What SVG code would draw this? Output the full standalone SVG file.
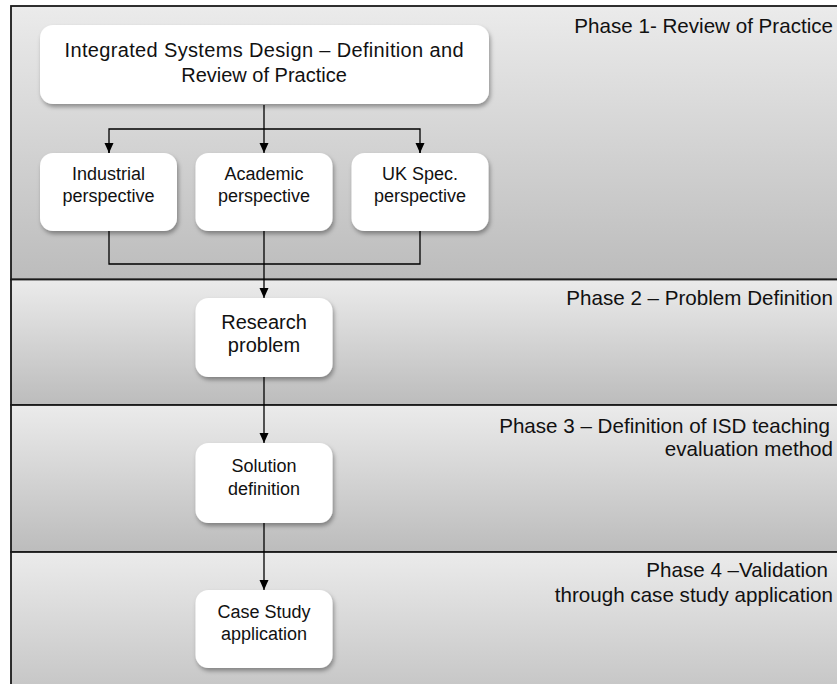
<svg xmlns="http://www.w3.org/2000/svg" width="837" height="684" viewBox="0 0 837 684">
<style>
.band{stroke:#1a1a1a;stroke-width:1.8}
.node rect{fill:#ffffff;filter:url(#sh)}
.node text,.lbl{font-family:"Liberation Sans",Arial,sans-serif;fill:#111;font-size:18px}
.node text{text-anchor:middle}
.node text.big{font-size:20px}
.lbl{font-size:20.6px;text-anchor:end}
.con{fill:none;stroke:#000;stroke-width:1.3}
</style>
<defs>
<linearGradient id="g" x1="0" y1="0" x2="0" y2="1">
<stop offset="0" stop-color="#ebebeb"/>
<stop offset="1" stop-color="#bcbcbc"/>
</linearGradient>
<linearGradient id="g4" x1="0" y1="552" x2="0" y2="700" gradientUnits="userSpaceOnUse">
<stop offset="0" stop-color="#ebebeb"/>
<stop offset="1" stop-color="#c3c3c3"/>
</linearGradient>
<filter id="sh" x="-10%" y="-10%" width="125%" height="135%">
<feDropShadow dx="1.5" dy="3" stdDeviation="2" flood-color="#000" flood-opacity="0.35"/>
</filter>
<marker id="ah" markerWidth="10" markerHeight="10" viewBox="0 0 10 10" refX="10" refY="5" orient="auto" markerUnits="userSpaceOnUse">
<path d="M0,0.5 L10,5 L0,9.5 Z" fill="#000"/>
</marker>
</defs>

<g id="bands">
<rect class="band" x="11" y="6" width="840" height="273.5" fill="url(#g)"/>
<rect class="band" x="11" y="279.5" width="840" height="125.5" fill="url(#g)"/>
<rect class="band" x="11" y="405" width="840" height="147" fill="url(#g)"/>
<rect class="band" x="11" y="552" width="840" height="150" fill="url(#g4)"/>
</g>

<g id="phase-labels">
<text class="lbl" x="833" y="33">Phase 1- Review of Practice</text>
<text class="lbl" x="833" y="305">Phase 2 – Problem Definition</text>
<text class="lbl" x="830" y="433">Phase 3 – Definition of ISD teaching</text>
<text class="lbl" x="833" y="456">evaluation method</text>
<text class="lbl" x="828" y="577">Phase 4 –Validation</text>
<text class="lbl" x="833" y="602">through case study application</text>
</g>

<g id="connectors">
<path class="con" d="M264,105 V153" marker-end="url(#ah)"/>
<path class="con" d="M109,153 V129 H420 V153"/>
<path class="con" d="M109,143 V153" marker-end="url(#ah)"/>
<path class="con" d="M420,143 V153" marker-end="url(#ah)"/>
<path class="con" d="M109,231 V264 H420 V231"/>
<path class="con" d="M264,231 V298" marker-end="url(#ah)"/>
<path class="con" d="M264,377 V443" marker-end="url(#ah)"/>
<path class="con" d="M264,523 V590" marker-end="url(#ah)"/>
</g>

<g id="isd" class="node">
<rect x="40" y="25" width="449" height="79" rx="13"/>
<text class="big" x="264" y="57" textLength="399" lengthAdjust="spacing">Integrated Systems Design – Definition and</text>
<text class="big" x="264" y="82">Review of Practice</text>
</g>
<g id="industrial" class="node">
<rect x="40" y="153" width="137" height="78" rx="13"/>
<text x="108.5" y="180">Industrial</text>
<text x="108.5" y="202">perspective</text>
</g>
<g id="academic" class="node">
<rect x="195.5" y="153" width="137" height="78" rx="13"/>
<text x="264" y="180">Academic</text>
<text x="264" y="202">perspective</text>
</g>
<g id="ukspec" class="node">
<rect x="351.5" y="153" width="137" height="78" rx="13"/>
<text x="420" y="180">UK Spec.</text>
<text x="420" y="202">perspective</text>
</g>
<g id="research" class="node">
<rect x="195.5" y="298" width="137" height="79" rx="13"/>
<text class="big" x="264" y="329">Research</text>
<text class="big" x="264" y="352">problem</text>
</g>
<g id="solution" class="node">
<rect x="195.5" y="443" width="137" height="80" rx="13"/>
<text x="264" y="472">Solution</text>
<text x="264" y="495">definition</text>
</g>
<g id="casestudy" class="node">
<rect x="195.5" y="590" width="137" height="78" rx="13"/>
<text x="264" y="618">Case Study</text>
<text x="264" y="640">application</text>
</g>
</svg>
